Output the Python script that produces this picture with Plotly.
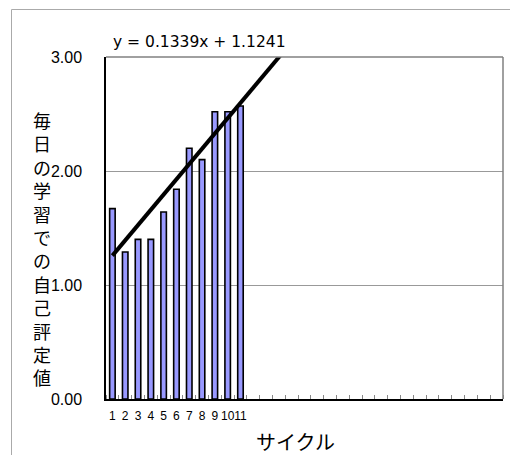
import plotly.graph_objects as go

# ---- data ----
cycles = [1, 2, 3, 4, 5, 6, 7, 8, 9, 10, 11]
scores = [1.67, 1.29, 1.40, 1.40, 1.64, 1.84, 2.20, 2.10, 2.52, 2.52, 2.57]
n_slots = 31
slope = 0.1339
intercept = 1.1241
y_ticks = [0, 1, 2, 3]
y_title = "毎日の学習での自己評定値"
x_title = "サイクル"
eq_text = "y = 0.1339x + 1.1241"

W, H = 510, 455
L, R, T, B = 106, 7, 57, 56
pw, ph = W - L - R, H - T - B

def px_x(px):
    return (px - L) / pw

def px_y(py):
    return (H - B - py) / ph

trend_x = [cycles[0], 16]
trend_y = [slope * x + intercept for x in trend_x]

fig = go.Figure()
fig.add_trace(go.Bar(
    x=cycles, y=scores, width=0.43,
    marker=dict(color="#9999FF", line=dict(color="black", width=1.6)),
    showlegend=False,
))
fig.add_trace(go.Scatter(
    x=trend_x, y=trend_y, mode="lines",
    line=dict(color="black", width=4), showlegend=False,
))

ticktext = [str(c) for c in cycles] + [""] * (n_slots - len(cycles))
fig.update_layout(
    width=W, height=H,
    margin=dict(l=L, r=R, t=T, b=B, autoexpand=False),
    paper_bgcolor="white", plot_bgcolor="white",
    font=dict(family="Noto Sans CJK JP, Liberation Sans, sans-serif", color="black"),
    xaxis=dict(
        range=[0.5, n_slots + 0.5], showgrid=False, zeroline=False,
        tickmode="array", tickvals=list(range(1, n_slots + 1)), ticktext=ticktext,
        ticks="", tickangle=0, automargin=False, ticklabelstandoff=5,
        tickfont=dict(size=12, family="Liberation Sans, Arial, sans-serif"),
        showline=True, linecolor="black", linewidth=1.5,
        minor=dict(tickmode="array", tickvals=[i + 0.5 for i in range(n_slots + 1)],
                   ticks="inside", ticklen=4, tickcolor="#888888", tickwidth=1, showgrid=False),
    ),
    yaxis=dict(
        range=[0, 3], tickvals=y_ticks, ticktext=[f"{v:.2f}" for v in y_ticks],
        showgrid=True, gridcolor="#999999", gridwidth=1, zeroline=False,
        showline=True, linecolor="black", linewidth=1.5, ticks="", automargin=False,
        tickfont=dict(size=16, family="Liberation Sans, Arial, sans-serif"),
        ticklabelstandoff=19,
    ),
)

# gray top/right plot border
fig.add_shape(type="line", xref="paper", yref="paper", x0=0, x1=1, y0=1, y1=1,
              line=dict(color="#808080", width=1.5))
fig.add_shape(type="line", xref="paper", yref="paper", x0=1, x1=1, y0=0, y1=1,
              line=dict(color="#808080", width=1.5))
# outer chart-area frame (top & left)
fig.add_shape(type="line", xref="paper", yref="paper", x0=px_x(11.5), x1=px_x(W + 5),
              y0=px_y(9.5), y1=px_y(9.5), line=dict(color="#AAAAAA", width=1))
fig.add_shape(type="line", xref="paper", yref="paper", x0=px_x(11.5), x1=px_x(11.5),
              y0=px_y(9.5), y1=px_y(H + 5), line=dict(color="#AAAAAA", width=1))

fig.add_annotation(text="<br>".join(list(y_title)), xref="paper", yref="paper",
                   x=px_x(41.7), y=px_y(248), xanchor="center", yanchor="middle",
                   showarrow=False, font=dict(size=18))
fig.add_annotation(text=eq_text, xref="paper", yref="paper",
                   x=px_x(199), y=px_y(41.7), xanchor="center", yanchor="middle",
                   showarrow=False, font=dict(size=15.5, family="DejaVu Sans, sans-serif"))
fig.add_annotation(text=x_title, xref="paper", yref="paper",
                   x=px_x(295), y=px_y(441), xanchor="center", yanchor="middle",
                   showarrow=False, font=dict(size=20))

fig.write_html("out.html", config={"displayModeBar": False},
               post_script="document.body.style.margin='0';document.body.style.overflow='hidden';")
